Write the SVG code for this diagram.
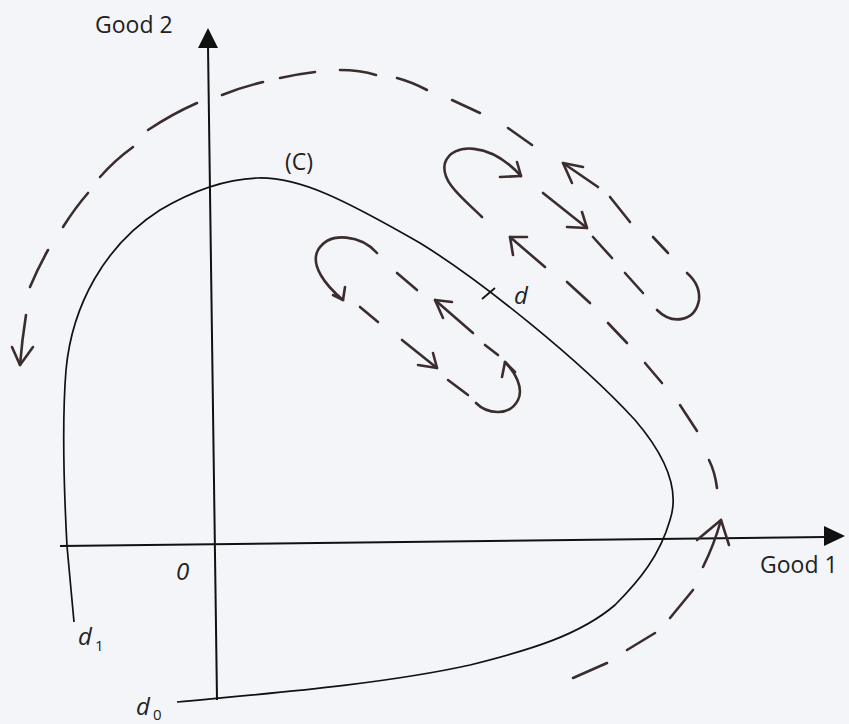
<svg xmlns="http://www.w3.org/2000/svg" width="849" height="724" viewBox="0 0 849 724">
<style>
.axis{stroke:#111;stroke-width:2;fill:none}
.curve{stroke:#111;stroke-width:1.7;fill:none}
.dash{stroke:#3b2d2d;stroke-width:2.6;fill:none;stroke-linecap:round;stroke-linejoin:round}
.lbl{font-family:"Open Sans","Liberation Sans",sans-serif;font-size:23px;fill:#222}
.it{font-family:"Open Sans","Liberation Sans",sans-serif;font-style:italic;font-size:24px;fill:#222}
.sub{font-family:"Open Sans","Liberation Sans",sans-serif;font-size:15px;fill:#222}
</style>
<rect width="849" height="724" fill="#f4f5f9"/>
<g id="axes">
<line class="axis" x1="217" y1="700" x2="208" y2="46"/>
<polygon points="208,28 198,48 218,48" fill="#111"/>
<line class="axis" x1="60" y1="546" x2="826" y2="537"/>
<polygon points="845,536 824,526 824,546" fill="#111"/>
</g>
<g id="curve-C">
<path class="curve" d="M74,622 L67,546 C64,490 62,420 66,370 C72,305 105,245 160,210 C192,191 225,179 258,178 C300,177 345,200 420,243 C480,280 580,360 635,420 C665,455 680,490 670,520 C660,555 640,580 615,605 C580,635 530,650 470,665 C380,685 260,694 177,702"/>
<line class="curve" x1="482" y1="299" x2="495" y2="288"/>
</g>
<g id="outer-path">
<line class="dash" x1="573" y1="678" x2="607" y2="663"/>
<line class="dash" x1="627" y1="650" x2="655" y2="633"/>
<line class="dash" x1="670" y1="618" x2="693" y2="590"/>
<path class="dash" d="M703,567 Q714,545 721,520"/>
<polyline class="dash" points="697,540 721,520 729,545"/>
<path class="dash" d="M709,460 Q715,472 717,488"/>
<line class="dash" x1="680" y1="405" x2="697" y2="431"/>
<line class="dash" x1="645" y1="363" x2="662" y2="383"/>
<line class="dash" x1="608" y1="323" x2="627" y2="343"/>
<line class="dash" x1="567" y1="282" x2="590" y2="303"/>
<line class="dash" x1="545" y1="267" x2="510" y2="237"/>
<polyline class="dash" points="527,237 510,237 513,255"/>
<path class="dash" d="M482,217 C465,200 440,182 445,163 C452,142 490,142 521,176"/>
<polyline class="dash" points="500,177 521,176 517,162"/>
<line class="dash" x1="543" y1="193" x2="587" y2="228"/>
<polyline class="dash" points="567,227 587,228 582,212"/>
<line class="dash" x1="593" y1="237" x2="612" y2="258"/>
<line class="dash" x1="625" y1="273" x2="643" y2="293"/>
<path class="dash" d="M657,310 C672,325 695,322 699,300 C700,290 695,280 687,273"/>
<line class="dash" x1="668" y1="253" x2="653" y2="237"/>
<line class="dash" x1="630" y1="222" x2="610" y2="197"/>
<line class="dash" x1="598" y1="187" x2="563" y2="163"/>
<polyline class="dash" points="583,167 563,163 572,183"/>
<line class="dash" x1="532" y1="145" x2="508" y2="128"/>
<line class="dash" x1="480" y1="113" x2="452" y2="100"/>
<path class="dash" d="M427,90 Q412,82 397,78"/>
<path class="dash" d="M376,75 Q360,70 340,70"/>
<path class="dash" d="M315,72 Q298,74 280,78"/>
<path class="dash" d="M263,82 Q242,87 222,95"/>
<path class="dash" d="M197,103 Q172,114 148,130"/>
<path class="dash" d="M133,147 Q115,160 100,177"/>
<path class="dash" d="M88,193 Q75,208 63,227"/>
<path class="dash" d="M48,250 Q38,268 30,287"/>
<path class="dash" d="M26,315 Q22,340 20,365"/>
<polyline class="dash" points="12,347 20,365 33,347"/>
</g>
<g id="inner-loop">
<path class="dash" d="M377,253 C362,236 330,230 318,250 C310,265 325,285 343,300"/>
<polyline class="dash" points="333,295 343,300 345,287"/>
<line class="dash" x1="360" y1="307" x2="378" y2="322"/>
<line class="dash" x1="402" y1="340" x2="437" y2="368"/>
<polyline class="dash" points="418,365 437,368 433,353"/>
<line class="dash" x1="448" y1="380" x2="468" y2="395"/>
<path class="dash" d="M476,403 C488,415 510,416 518,400 C524,388 515,372 505,362"/>
<polyline class="dash" points="502,377 505,362 515,372"/>
<line class="dash" x1="498" y1="355" x2="485" y2="345"/>
<line class="dash" x1="473" y1="333" x2="435" y2="300"/>
<polyline class="dash" points="452,302 435,300 443,318"/>
<line class="dash" x1="417" y1="290" x2="397" y2="273"/>
</g>
<g id="labels">
<text class="lbl" x="95" y="33">Good 2</text>
<text class="lbl" x="760" y="573">Good 1</text>
<text class="lbl" x="285" y="170">(C)</text>
<text class="it" x="514" y="304">d</text>
<text class="it" x="176" y="580">0</text>
<text class="it" x="78" y="645">d</text><text class="sub" x="95" y="651">1</text>
<text class="it" x="136" y="715">d</text><text class="sub" x="153" y="720">0</text>
</g>
</svg>
